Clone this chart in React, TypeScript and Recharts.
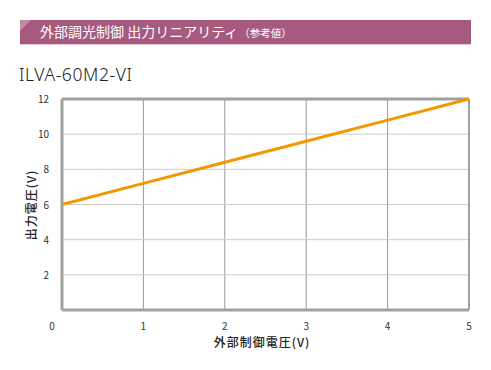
import React from "react";
import { LineChart, Line, XAxis, YAxis, CartesianGrid, ReferenceLine } from "recharts";

const controlVoltage = [0, 1, 2, 3, 4, 5];
const outputVoltage = [6, 7.2, 8.4, 9.6, 10.8, 12];
const xTicks = [0, 1, 2, 3, 4, 5];
const yTicks = [2, 4, 6, 8, 10, 12];

const headerTitle = "外部調光制御 出力リニアリティ";
const headerNote = "（参考値）";
const modelName = "ILVA-60M2-VI";
const xLabel = "外部制御電圧(V)";
const yLabel = "出力電圧(V)";

const data = controlVoltage.map((x, i) => ({ x, y: outputVoltage[i] }));

const FONT = "'Noto Sans CJK JP', 'Noto Sans', sans-serif";

const XTick = (props: any) => {
  const { x, y, payload } = props;
  const dx = payload.value === 0 ? -10 : 0;
  return (
    <text x={x + dx} y={y + 12} textAnchor="middle" fontSize={10} fill="#333" fontFamily={FONT}>
      {payload.value}
    </text>
  );
};

const YTick = (props: any) => {
  const { x, y, payload } = props;
  return (
    <text x={x} y={y + 4} textAnchor="end" fontSize={10} fill="#333" fontFamily={FONT}>
      {payload.value}
    </text>
  );
};

export default function App() {
  return (
    <div style={{ position: "absolute", left: 0, top: 0, width: 491, height: 370, background: "#fff", fontFamily: FONT }}>
      <div style={{ position: "absolute", left: 20, top: 20, width: 451, height: 24, background: "#a65a7e", borderBottom: "1px solid #e8c6d6", overflow: "hidden" }}>
        <div style={{ position: "absolute", left: 0, top: 0, width: 0, height: 0, borderTop: "11px solid #c48aa5", borderRight: "11px solid transparent" }} />
        <div style={{ position: "absolute", left: 20, top: 2, color: "#fff", fontSize: 14, whiteSpace: "nowrap", lineHeight: "19px" }}>
          {headerTitle}
          <span style={{ fontSize: 10.5, marginLeft: 1 }}>{headerNote}</span>
        </div>
      </div>
      <div style={{ position: "absolute", left: 19, top: 63, fontSize: 17.5, color: "#222", fontFamily: "'Noto Sans', sans-serif", fontWeight: 300, lineHeight: "22px", letterSpacing: 0.6 }}>
        {modelName}
      </div>
      <div style={{ position: "absolute", left: 0, top: 0 }}>
        <LineChart width={491} height={370} data={data} margin={{ top: 99, right: 22, bottom: 30, left: 22 }}>
          <CartesianGrid horizontal={false} vertical={true} stroke="#999" strokeWidth={1} />
          {[2, 4, 6, 8, 10].map((v) => (
            <ReferenceLine key={"h" + v} y={v} stroke="#ccc" strokeWidth={1} />
          ))}
          <ReferenceLine y={12} stroke="#a0a0a0" strokeWidth={3} />
          <ReferenceLine x={5} stroke="#a0a0a0" strokeWidth={2} />
          <XAxis
            dataKey="x"
            type="number"
            domain={[0, 5]}
            ticks={xTicks}
            height={30}
            axisLine={{ stroke: "#a0a0a0", strokeWidth: 3 }}
            tickLine={false}
            tick={<XTick />}
            interval={0}
          />
          <YAxis
            type="number"
            domain={[0, 12]}
            ticks={yTicks}
            width={40}
            axisLine={{ stroke: "#a0a0a0", strokeWidth: 3 }}
            tickLine={false}
            tickMargin={7}
            tick={<YTick />}
            interval={0}
          />
          <Line type="linear" dataKey="y" stroke="#f39800" strokeWidth={3} dot={false} isAnimationActive={false} />
        </LineChart>
      </div>
      <div style={{ position: "absolute", left: 210, top: 333, width: 104, textAlign: "center", fontSize: 12, fontWeight: 500, color: "#222", letterSpacing: 1, whiteSpace: "nowrap" }}>
        {xLabel}
      </div>
      <div style={{ position: "absolute", left: 30, top: 205, transform: "translate(-50%, -50%) rotate(-90deg)", fontSize: 12, fontWeight: 500, color: "#222", letterSpacing: 1, whiteSpace: "nowrap" }}>
        {yLabel}
      </div>
    </div>
  );
}
